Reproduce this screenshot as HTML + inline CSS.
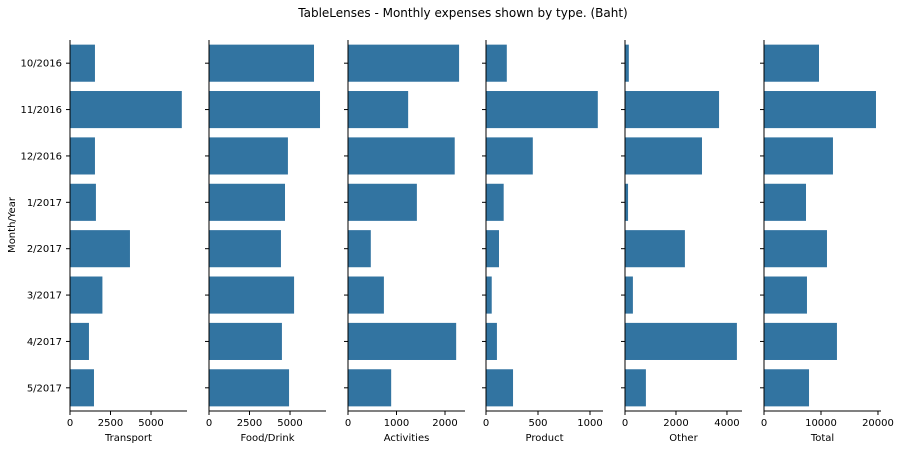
<!DOCTYPE html>
<html><head><meta charset="utf-8"><style>
body{margin:0;background:#fff;font-family:"Liberation Sans","DejaVu Sans",sans-serif;}
svg text{font-family:"DejaVu Sans","Liberation Sans",sans-serif;fill:#000;}
</style></head><body>
<svg id="chart" width="900" height="450">
<text x="463" y="17" font-size="12" text-anchor="middle">TableLenses - Monthly expenses shown by type. (Baht)</text>
<text transform="translate(15,225) rotate(-90)" font-size="10" text-anchor="middle">Month/Year</text>
</svg>
<script>
const categories=["10/2016","11/2016","12/2016","1/2017","2/2017","3/2017","4/2017","5/2017"];
const transport=[1540,6900,1540,1600,3700,2000,1170,1480];
const foodDrink=[6480,6850,4870,4690,4440,5250,4500,4940];
const activities=[2290,1240,2200,1420,470,740,2230,890];
const product=[200,1075,450,170,125,55,105,260];
const other=[150,3690,3020,120,2350,310,4390,820];
const total=[9650,19650,12100,7370,11050,7540,12800,7900];
const panelTitles=["Transport","Food/Drink","Activities","Product","Other","Total"];
const transportTicks=[0,2500,5000];
const foodTicks=[0,2500,5000];
const activityTicks=[0,1000,2000];
const productTicks=[0,500,1000];
const otherTicks=[0,2000,4000];
const totalTicks=[0,10000,20000];

const NS="http://www.w3.org/2000/svg";
const svgEl=document.getElementById("chart");
function mk(t,a,p){const e=document.createElementNS(NS,t);for(const k in a)e.setAttribute(k,a[k]);(p||svgEl).appendChild(e);return e;}
const seriesList=[transport,foodDrink,activities,product,other,total];
const tickList=[transportTicks,foodTicks,activityTicks,productTicks,otherTicks,totalTicks];
const maxes=[7220,7220,2412,1125,4590,20530];
const lefts=[70,209,348,486,625,764];
const panelW=117, plotTop=40, plotBottom=411;
const band=(plotBottom-plotTop)/categories.length;
function yPos(i){return plotTop+band*i;}
seriesList.forEach((vals,p)=>{
  const x0=lefts[p];
  const xs=v=>x0+v/maxes[p]*panelW;
  const g=mk("g",{});
  
  
  vals.forEach((v,i)=>{
    const r=mk("rect",{x:x0,y:yPos(i)+band*0.1,width:xs(v)-x0,height:band*0.8,fill:"#3274a1"},g);
    
    
  });
  mk("line",{x1:x0,y1:plotTop,x2:x0,y2:plotBottom,stroke:"#000","stroke-width":1},g);
  mk("line",{x1:x0,y1:plotBottom,x2:x0+panelW,y2:plotBottom,stroke:"#000","stroke-width":1},g);
  categories.forEach((c,i)=>{
    const yc=yPos(i)+band/2;
    mk("line",{x1:x0-4,y1:yc,x2:x0,y2:yc,stroke:"#000"},g);
    if(p===0){
      const t=mk("text",{x:x0-8,y:yc+3.5,"font-size":10,"text-anchor":"end"},g);
      t.textContent=c;
      
      
    }
  });
  tickList[p].forEach(tv=>{
    const tx=xs(tv);
    mk("line",{x1:tx,y1:plotBottom,x2:tx,y2:plotBottom+4,stroke:"#000"},g);
    const t=mk("text",{x:tx,y:plotBottom+15,"font-size":10,"text-anchor":"middle"},g);
    t.textContent=tv;
    
    
  });
  const lt=mk("text",{x:x0+panelW/2,y:plotBottom+30,"font-size":10,"text-anchor":"middle"},g);
  lt.textContent=panelTitles[p];
  
  
});
</script>
</body></html>
